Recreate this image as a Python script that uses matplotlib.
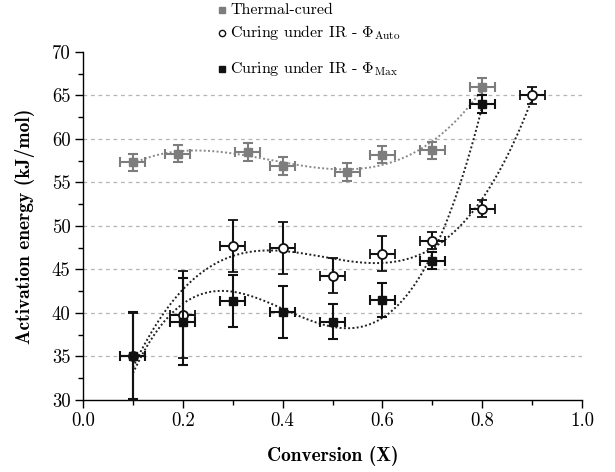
import numpy as np
import matplotlib
matplotlib.use("Agg")
import matplotlib.pyplot as plt
from matplotlib.ticker import MultipleLocator
from matplotlib.lines import Line2D

plt.rcParams['font.family'] = ['cmr10', 'DejaVu Serif']
plt.rcParams['mathtext.fontset'] = 'cm'
plt.rcParams['axes.formatter.use_mathtext'] = True

# ---- data ----
x_thermal = [0.10, 0.19, 0.33, 0.40, 0.53, 0.60, 0.70, 0.80]
E_thermal = [57.3, 58.3, 58.5, 56.9, 56.2, 58.2, 58.7, 66.0]
err_thermal = [1.0, 1.0, 1.0, 1.0, 1.0, 1.0, 1.0, 1.0]

x_auto = [0.1, 0.2, 0.3, 0.4, 0.5, 0.6, 0.7, 0.8, 0.9]
E_auto = [35.0, 39.8, 47.7, 47.5, 44.3, 46.8, 48.3, 52.0, 65.0]
err_auto = [5.0, 5.0, 3.0, 3.0, 2.0, 2.0, 1.0, 1.0, 1.0]

x_max = [0.1, 0.2, 0.3, 0.4, 0.5, 0.6, 0.7, 0.8]
E_max = [35.1, 39.0, 41.4, 40.1, 39.0, 41.5, 46.0, 64.0]
err_max = [5.0, 5.0, 3.0, 3.0, 2.0, 2.0, 1.0, 1.0]

x_err = 0.025
fit_degree = 3

labels = ['Thermal-cured',
          r'Curing under IR - $\Phi_{\mathrm{Auto}}$',
          r'Curing under IR - $\Phi_{\mathrm{Max}}$']

x_ticks = [0.0, 0.2, 0.4, 0.6, 0.8, 1.0]
y_ticks = [30, 35, 40, 45, 50, 55, 60, 65, 70]

fig = plt.figure(figsize=(6.15, 4.72), dpi=100)
ax = fig.add_axes([83/615, 1-400/472, (582-83)/615, (400-52)/472])

def fit_curve(x, y, err, color, z):
    # weighted (1/sigma) polynomial fit using the error bars
    c = np.polyfit(x, y, fit_degree, w=1/np.asarray(err))
    xs = np.linspace(min(x), max(x), 200)
    ax.plot(xs, np.polyval(c, xs), ls=(0, (1, 1.2)), lw=1.4, color=color, zorder=z)

fit_curve(x_thermal, E_thermal, err_thermal, '#8a8a8a', 2)
fit_curve(x_auto, E_auto, err_auto, '#222222', 2)
fit_curve(x_max, E_max, err_max, '#222222', 2)

gray = '#7d7d7d'
ax.errorbar(x_thermal, E_thermal, yerr=err_thermal, xerr=x_err, fmt='s',
            color=gray, mfc=gray, mec=gray, ms=5.5, elinewidth=1.5,
            capsize=3.5, capthick=1.5, zorder=3)
ax.errorbar(x_auto, E_auto, yerr=err_auto, xerr=x_err, fmt='o',
            color='#111111', mfc='white', mec='#111111', mew=1.3, ms=6.5,
            elinewidth=1.5, capsize=3.5, capthick=1.5, zorder=4)
ax.errorbar(x_max, E_max, yerr=err_max, xerr=x_err, fmt='s',
            color='#111111', mfc='#111111', mec='#111111', ms=5.5,
            elinewidth=1.5, capsize=3.5, capthick=1.5, zorder=5)

ax.set_xlim(0, 1.0)
ax.set_ylim(30, 70)
ax.set_xticks(x_ticks)
ax.set_yticks(y_ticks)
ax.xaxis.set_minor_locator(MultipleLocator(0.1))
ax.yaxis.set_minor_locator(MultipleLocator(2.5))
ax.set_xticklabels([f'{v:.1f}' for v in x_ticks])
ax.set_yticklabels([str(v) for v in y_ticks])
ax.tick_params(which='major', direction='out', length=6, width=1.0, labelsize=13.5, pad=3)
ax.tick_params(which='minor', direction='out', length=3.5, width=1.0)

for s in ['top', 'right']:
    ax.spines[s].set_visible(False)
for s in ['left', 'bottom']:
    ax.spines[s].set_linewidth(1.0)

ax.yaxis.grid(True, ls=(0, (3, 3)), color='#b5b5b5', lw=0.9, zorder=0)
gl = ax.yaxis.get_gridlines()
gl[0].set_visible(False)
gl[-1].set_visible(False)
ax.set_axisbelow(True)

ax.set_xlabel('Conversion (X)', family=['cmb10', 'DejaVu Serif'], fontsize=14, labelpad=11)
ax.set_ylabel('Activation energy (kJ/mol)', family=['cmb10', 'DejaVu Serif'], fontsize=14, labelpad=12)

# manual legend at the top
leg_y = [10, 33, 69]
leg_style = [dict(marker='s', mfc=gray, mec=gray, ms=4),
             dict(marker='o', mfc='white', mec='#111111', ms=4.5, mew=1.0),
             dict(marker='s', mfc='#111111', mec='#111111', ms=4)]
for yy, lab, st in zip(leg_y, labels, leg_style):
    fy = 1 - yy/472
    fig.add_artist(Line2D([222/615], [fy], ls='none', transform=fig.transFigure, **st))
    fig.text(230/615, fy, lab, fontsize=11.5, va='center', ha='left')

fig.savefig('out.png', dpi=100)
